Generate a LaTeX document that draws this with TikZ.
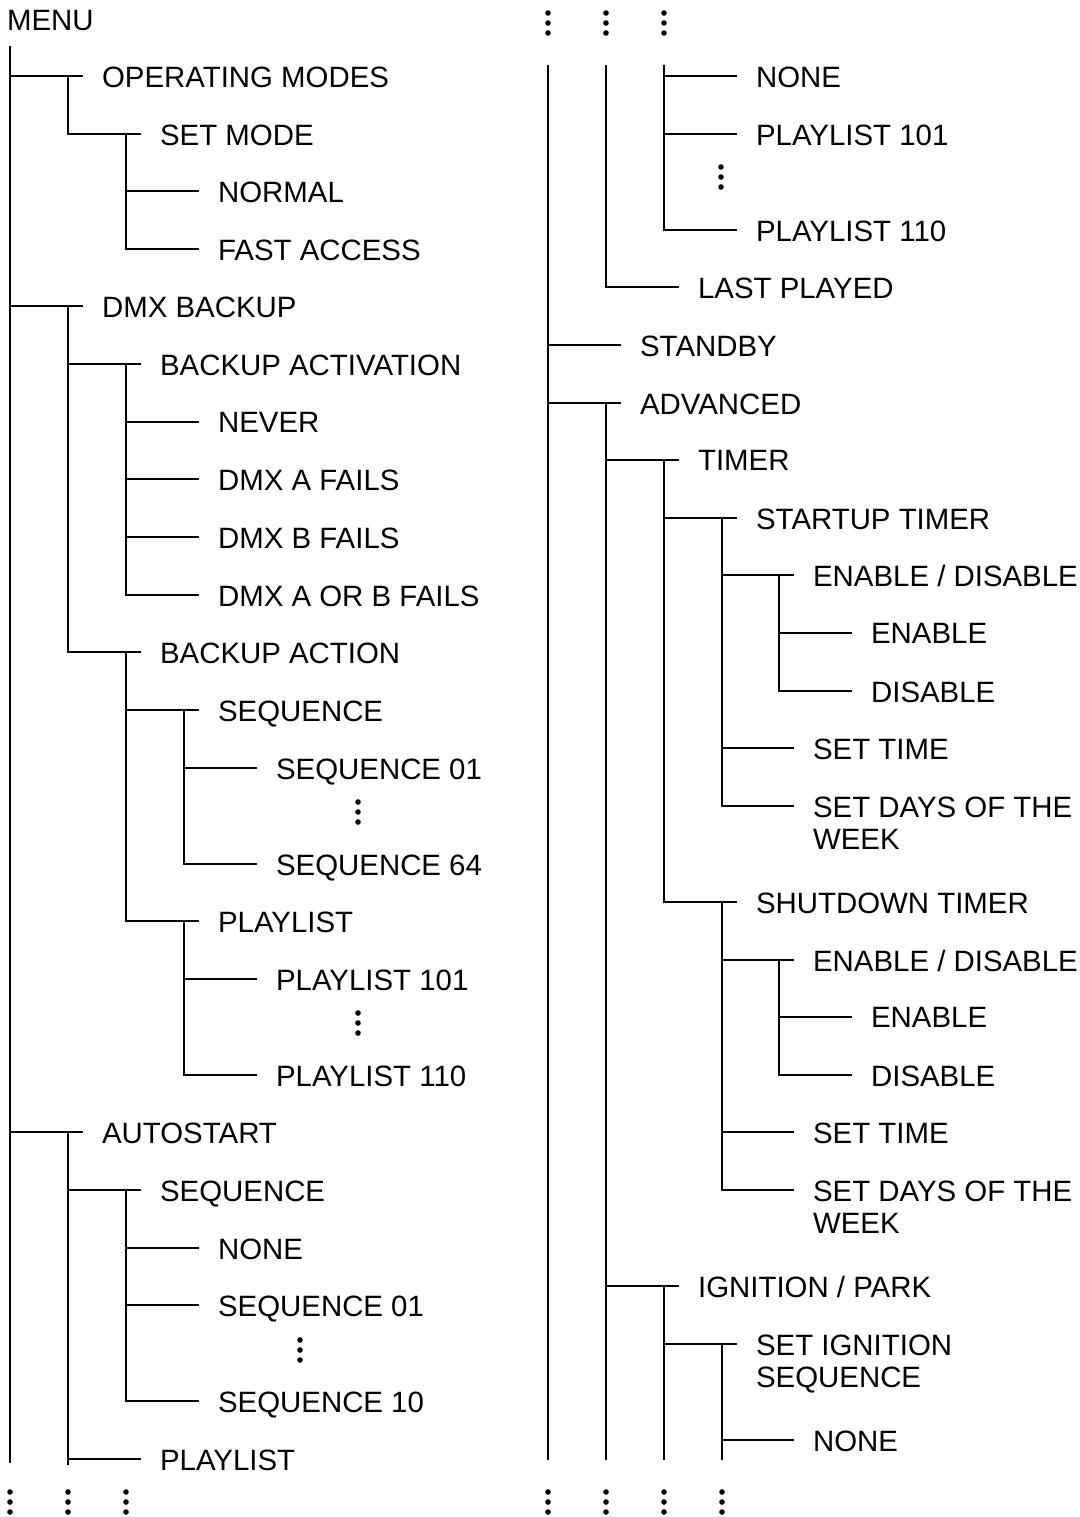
\documentclass[tikz,border=0pt]{standalone}
\usepackage{fontspec}
\setmainfont{Liberation Sans}

\begin{document}
\begin{tikzpicture}[x=0.5pt, y=-0.5pt, line width=1.1pt,
    item/.style={anchor=north west, inner sep=0pt, align=left, yshift=5.25pt,
      font=\fontsize{14.7}{16}\selectfont}]
        \useasboundingbox (0,0) rectangle (1080,1517);
        % left column
        \node[item] (menu) at (6,20) {MENU};
        \node[item] (opm) at (101,76) {OPERATING MODES};
        \node[item] (setm) at (159,134) {SET MODE};
        \node[item] (normal) at (217,191) {NORMAL};
        \node[item] (fast) at (217,249) {FAST ACCESS};
        \node[item] (dmx) at (101,306) {DMX BACKUP};
        \node[item] (bactv) at (159,364) {BACKUP ACTIVATION};
        \node[item] (never) at (217,422) {NEVER};
        \node[item] (afail) at (217,479) {DMX A FAILS};
        \node[item] (bfail) at (217,537) {DMX B FAILS};
        \node[item] (abfail) at (217,595) {DMX A OR B FAILS};
        \node[item] (bactn) at (159,652) {BACKUP ACTION};
        \node[item] (bseq) at (217,710) {SEQUENCE};
        \node[item] (bseqa) at (275,768) {SEQUENCE 01};
        \node[item] (bseqb) at (275,864) {SEQUENCE 64};
        \node[item] (bpl) at (217,921) {PLAYLIST};
        \node[item] (bpla) at (275,979) {PLAYLIST 101};
        \node[item] (bplb) at (275,1075) {PLAYLIST 110};
        \node[item] (auto) at (101,1132) {AUTOSTART};
        \node[item] (aseq) at (159,1190) {SEQUENCE};
        \node[item] (anone) at (217,1248) {NONE};
        \node[item] (aseqa) at (217,1305) {SEQUENCE 01};
        \node[item] (aseqb) at (217,1401) {SEQUENCE 10};
        \node[item] (apl) at (159,1459) {PLAYLIST};
        % right column
        \node[item] (aplnone) at (755,76) {NONE};
        \node[item] (apla) at (755,134) {PLAYLIST 101};
        \node[item] (aplb) at (755,230) {PLAYLIST 110};
        \node[item] (last) at (697,287) {LAST PLAYED};
        \node[item] (stby) at (639,345) {STANDBY};
        \node[item] (adv) at (639,403) {ADVANCED};
        \node[item] (timer) at (697,460) {TIMER};
        \node[item] (up) at (755,518) {STARTUP TIMER};
        \node[item] (upen) at (812,575) {ENABLE / DISABLE};
        \node[item] (upena) at (870,633) {ENABLE};
        \node[item] (upenb) at (870,691) {DISABLE};
        \node[item] (uptime) at (812,748) {SET TIME};
        \node[item] (updays) at (812,806) {SET DAYS OF THE\\WEEK};
        \node[item] (down) at (755,902) {SHUTDOWN TIMER};
        \node[item] (downen) at (812,960) {ENABLE / DISABLE};
        \node[item] (downena) at (870,1017) {ENABLE};
        \node[item] (downenb) at (870,1075) {DISABLE};
        \node[item] (downtime) at (812,1132) {SET TIME};
        \node[item] (downdays) at (812,1190) {SET DAYS OF THE\\WEEK};
        \node[item] (ign) at (697,1286) {IGNITION / PARK};
        \node[item] (ignseq) at (755,1344) {SET IGNITION\\SEQUENCE};
        \node[item] (ignnone) at (812,1440) {NONE};
        % loose ends of the tree
        \coordinate (lt) at (10,46);
        \coordinate (lb0) at (10,1463);
        \coordinate (lb1) at (68,1465);
        \coordinate (r0) at (548,65);
        \coordinate (r1) at (606,65);
        \coordinate (r2) at (664,65);
        \coordinate (rb0) at (548,1460);
        \coordinate (rb1) at (606,1460);
        \coordinate (rb2) at (664,1460);
        \coordinate (rb3) at (722,1460);
        % branches
        \draw (lt) -- (lb0);
        \draw (r0) -- (rb0);
        \foreach \c in {opm,dmx,auto}
          \draw (lt) |- ([shift={(-18,10.5)}]\c.north west);
        \foreach \c in {stby,adv}
          \draw (r0) |- ([shift={(-18,10.5)}]\c.north west);
        \draw (r1) |- ([shift={(-18,10.5)}]last.north west);
        \foreach \c in {aplnone,apla,aplb}
          \draw (r2) |- ([shift={(-18,10.5)}]\c.north west);
        \foreach \p/\c in {opm/setm, setm/normal, setm/fast, dmx/bactv, dmx/bactn,
            bactv/never, bactv/afail, bactv/bfail, bactv/abfail, bactn/bseq, bactn/bpl,
            bseq/bseqa, bseq/bseqb, bpl/bpla, bpl/bplb, auto/aseq, auto/apl,
            aseq/anone, aseq/aseqa, aseq/aseqb, adv/timer, adv/ign, timer/up, timer/down,
            up/upen, up/uptime, up/updays, upen/upena, upen/upenb,
            down/downen, down/downtime, down/downdays, downen/downena, downen/downenb,
            ign/ignseq, ignseq/ignnone}
          \draw ([shift={(-33,10.5)}]\p.north west) |- ([shift={(-18,10.5)}]\c.north west);
        \draw ([shift={(-33,10.5)}]auto.north west) -- (lb1);
        \draw ([shift={(-33,10.5)}]adv.north west) -- (rb1);
        \draw ([shift={(-33,10.5)}]ign.north west) -- (rb2);
        \draw ([shift={(-33,10.5)}]ignseq.north west) -- (rb3);
        % ellipsis dots
        \foreach \x/\y in {358/812, 358/1023, 300/1350, 721/177,
            10/1502, 68/1502, 126/1502, 548/23, 606/23, 664/23,
            548/1502, 606/1502, 664/1502, 722/1502}
          \foreach \d in {0,10,20}
            \fill (\x,\y-10+\d) circle (1.4pt);
\end{tikzpicture}
\end{document}
